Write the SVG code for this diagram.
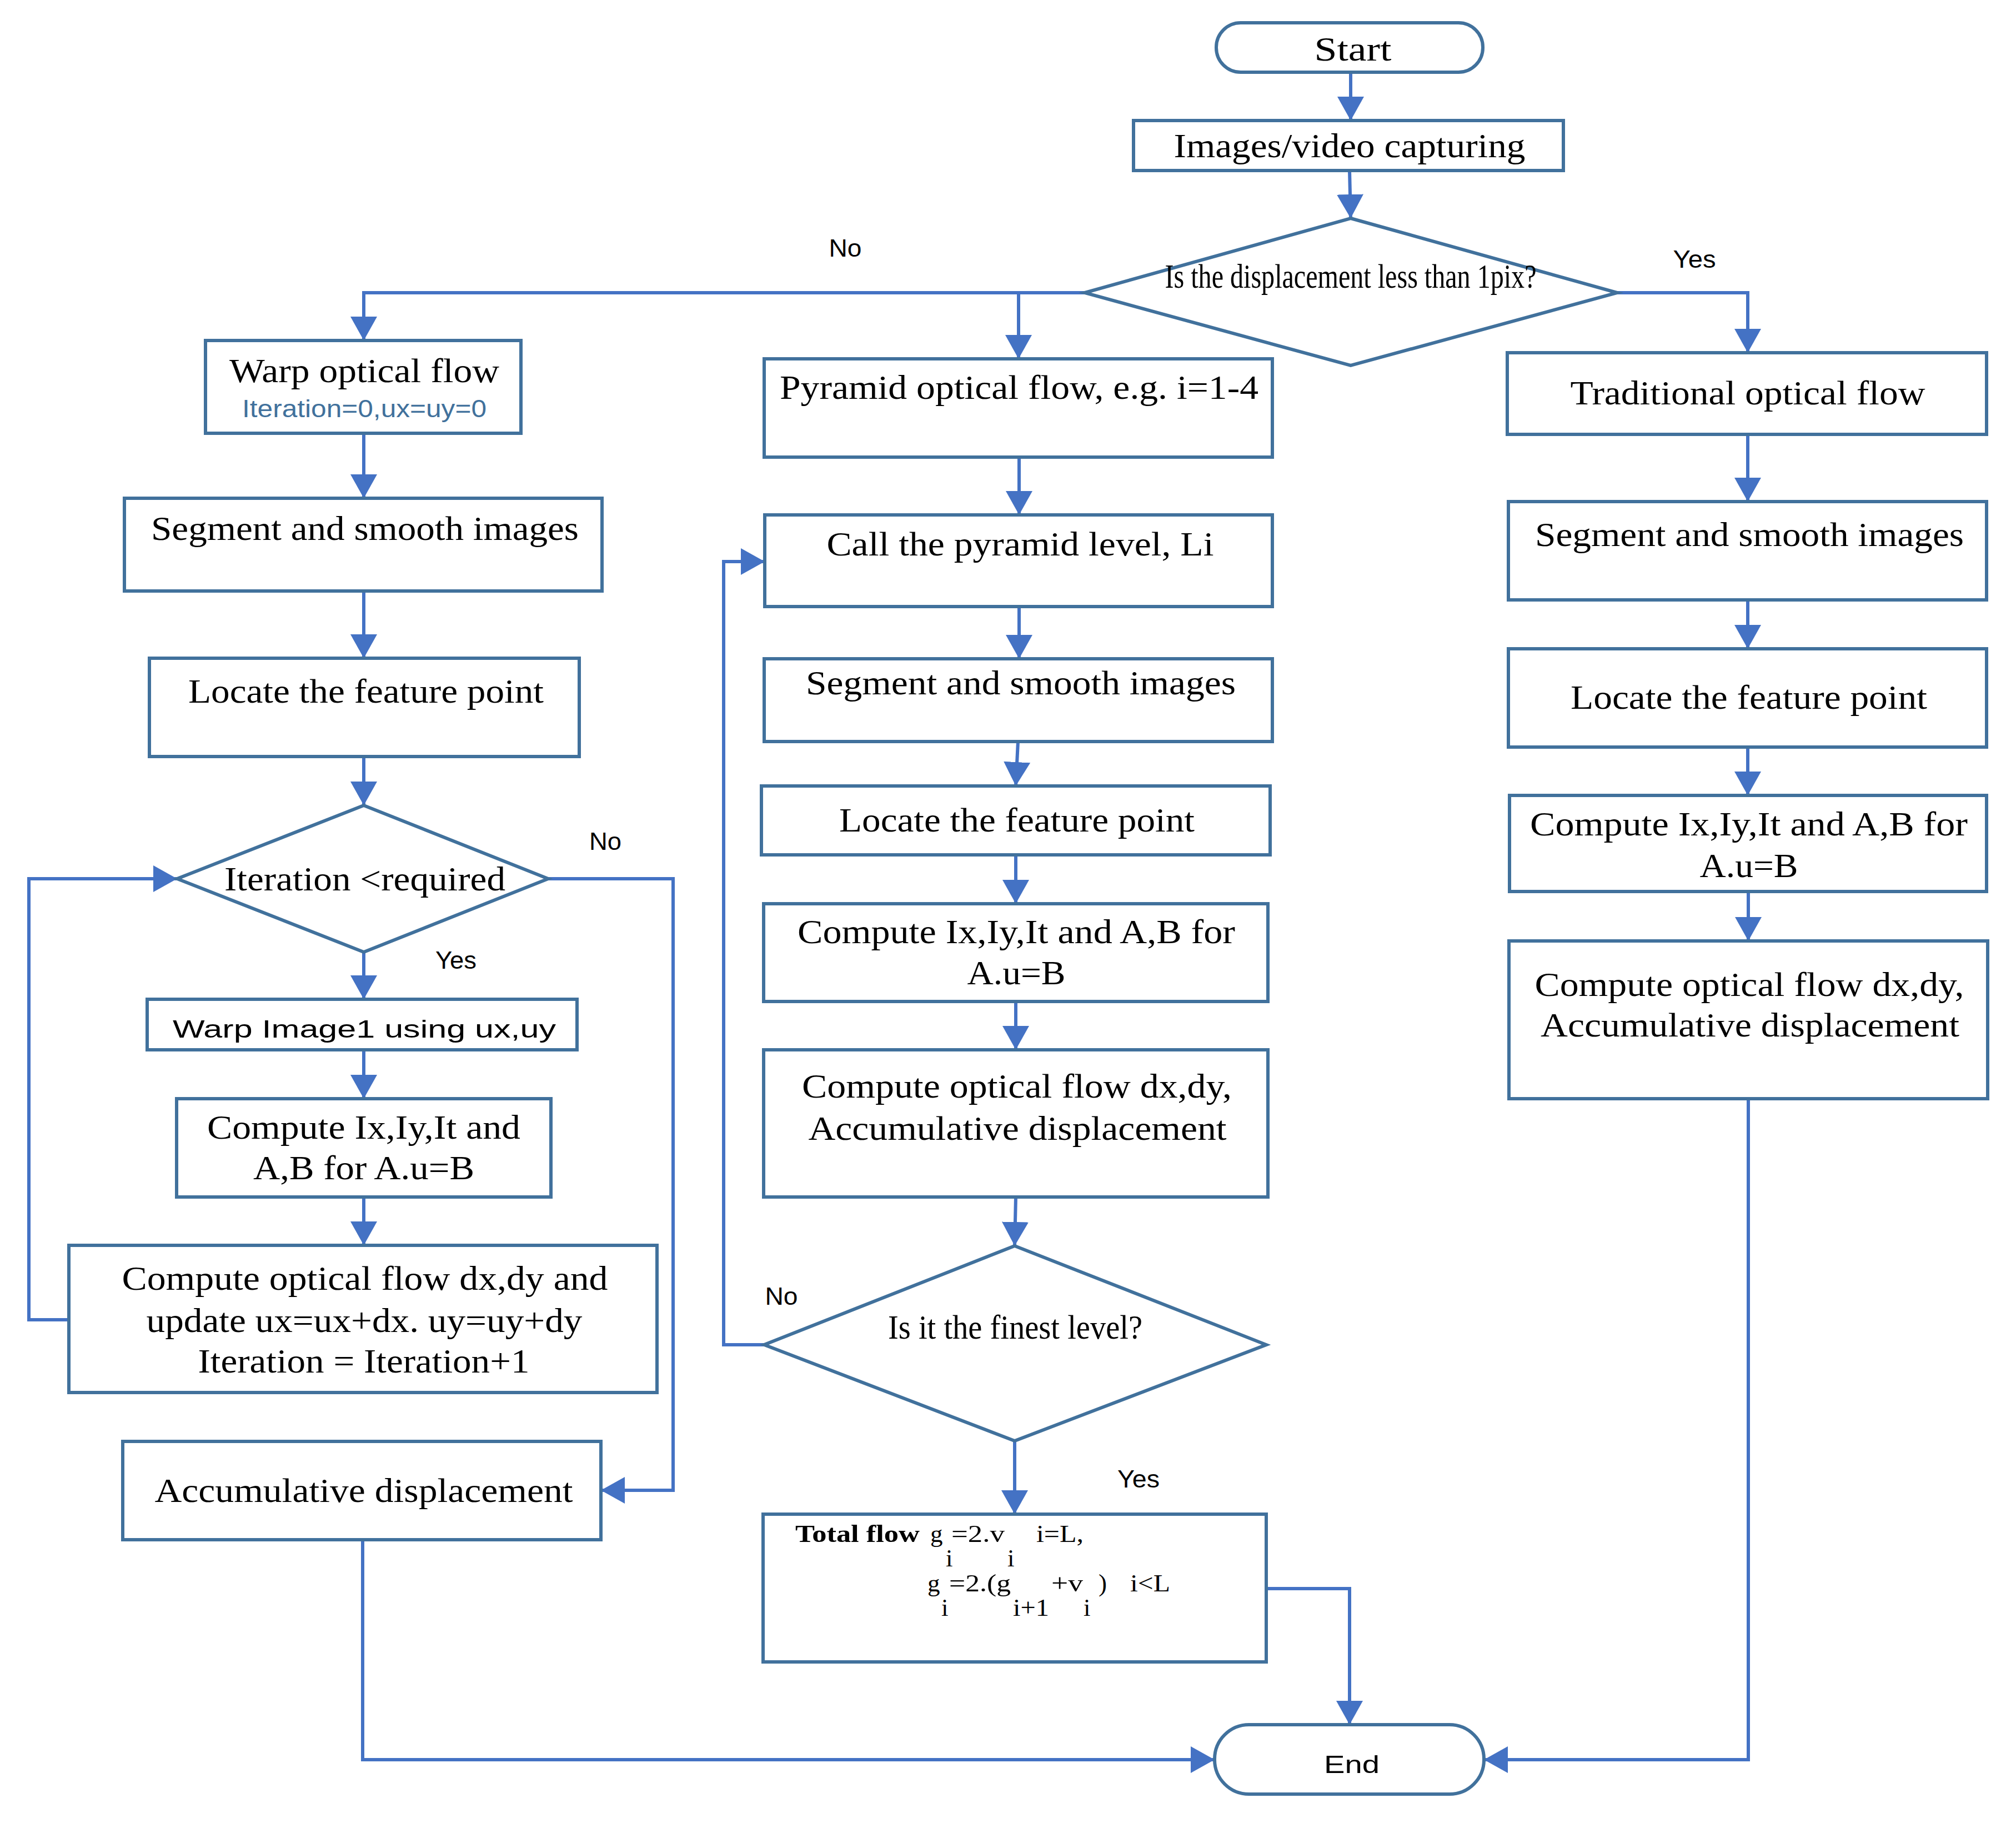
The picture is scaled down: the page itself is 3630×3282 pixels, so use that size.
<svg xmlns="http://www.w3.org/2000/svg" width="3630" height="3282" viewBox="0 0 3630 3282">
<defs>
<marker id="arr" viewBox="0 0 43 48" refX="43" refY="24" markerWidth="43" markerHeight="48" markerUnits="userSpaceOnUse" orient="auto">
<path d="M0,0 L43,24 L0,48 z" fill="#4472C4"/>
</marker>
<style>
.box{fill:#fff;stroke:#41719C;stroke-width:6}
.con{fill:none;stroke:#4472C4;stroke-width:6;marker-end:url(#arr)}
.t{font-family:"Liberation Serif","Times New Roman",serif;font-size:62px;fill:#000;text-anchor:middle}
.s{font-family:"Liberation Sans",Arial,sans-serif;font-size:44px;fill:#000;text-anchor:middle}
.f{font-family:"Liberation Serif","Times New Roman",serif;font-size:45px;fill:#000}
</style>
</defs>
<rect width="3630" height="3282" fill="#fff"/>
<g id="connectors">
<path class="con" d="M2432,130 L2432,217"/>
<path class="con" d="M2430,307 L2432,393"/>
<path class="con" d="M1953,527 L655,527 L655,613"/>
<path class="con" d="M1834,527 L1834,646"/>
<path class="con" d="M2912,527 L3147,527 L3147,635"/>
<path class="con" d="M655,780 L655,897"/>
<path class="con" d="M655,1064 L655,1185"/>
<path class="con" d="M655,1362 L655,1450"/>
<path class="con" d="M655,1714 L655,1799"/>
<path class="con" d="M655,1890 L655,1978"/>
<path class="con" d="M655,2155 L655,2242"/>
<path class="con" d="M124,2376 L52,2376 L52,1582 L319,1582"/>
<path class="con" d="M987,1582 L1212,1582 L1212,2683 L1082,2683"/>
<path class="con" d="M653,2772 L653,3168 L2187,3168"/>
<path class="con" d="M1835,823 L1835,927"/>
<path class="con" d="M1835,1092 L1835,1186"/>
<path class="con" d="M1833,1335 L1829,1415"/>
<path class="con" d="M1829,1539 L1829,1627"/>
<path class="con" d="M1829,1803 L1829,1890"/>
<path class="con" d="M1829,2155 L1827,2243"/>
<path class="con" d="M1376,2421 L1303,2421 L1303,1011 L1377,1011"/>
<path class="con" d="M1827,2594 L1827,2726"/>
<path class="con" d="M2280,2860 L2430,2860 L2430,3105"/>
<path class="con" d="M3147,782 L3147,903"/>
<path class="con" d="M3147,1080 L3147,1168"/>
<path class="con" d="M3147,1345 L3147,1432"/>
<path class="con" d="M3148,1605 L3148,1694"/>
<path class="con" d="M3148,1978 L3148,3168 L2672,3168"/>
<text class="s" x="1522" y="462" textLength="59" lengthAdjust="spacingAndGlyphs">No</text>
<text class="s" x="3051" y="482" textLength="77" lengthAdjust="spacingAndGlyphs">Yes</text>
<text class="s" x="1090" y="1530" textLength="58" lengthAdjust="spacingAndGlyphs">No</text>
<text class="s" x="821" y="1744" textLength="74" lengthAdjust="spacingAndGlyphs">Yes</text>
<text class="s" x="1407" y="2349" textLength="59" lengthAdjust="spacingAndGlyphs">No</text>
<text class="s" x="2050" y="2678" textLength="76" lengthAdjust="spacingAndGlyphs">Yes</text>
</g>
<g id="start">
<rect class="box" x="2190" y="41" width="480" height="89" rx="44"/>
<text class="t" x="2436" y="109" font-size="70" textLength="139" lengthAdjust="spacingAndGlyphs">Start</text>
</g>
<g id="capture">
<rect class="box" x="2041" y="217" width="774" height="90"/>
<text class="t" x="2430" y="283" textLength="633" lengthAdjust="spacingAndGlyphs">Images/video capturing</text>
</g>
<g id="decision-displacement">
<polygon class="box" points="2432,393 2912,527 2432,658 1953,527"/>
<text class="t" x="2432" y="518" font-size="46" textLength="669" lengthAdjust="spacingAndGlyphs">Is the displacement less than 1pix?</text>
</g>
<g id="warp-flow">
<rect class="box" x="370" y="613" width="568" height="167"/>
<text class="t" x="656" y="688" textLength="486" lengthAdjust="spacingAndGlyphs">Warp optical flow</text>
<text class="s" x="656" y="751" font-size="42" style="fill:#41719C" textLength="440" lengthAdjust="spacingAndGlyphs">Iteration=0,ux=uy=0</text>
</g>
<g id="segment-left">
<rect class="box" x="224" y="897" width="860" height="167"/>
<text class="t" x="657" y="972" textLength="770" lengthAdjust="spacingAndGlyphs">Segment and smooth images</text>
</g>
<g id="locate-left">
<rect class="box" x="269" y="1185" width="774" height="177"/>
<text class="t" x="659" y="1265" textLength="640" lengthAdjust="spacingAndGlyphs">Locate the feature point</text>
</g>
<g id="decision-iteration">
<polygon class="box" points="655,1450 987,1582 655,1714 319,1582"/>
<text class="t" x="657" y="1603" textLength="506" lengthAdjust="spacingAndGlyphs">Iteration &lt;required</text>
</g>
<g id="warp-image">
<rect class="box" x="265" y="1799" width="774" height="91"/>
<text class="s" x="656" y="1868" font-size="57" textLength="690" lengthAdjust="spacingAndGlyphs">Warp Image1 using ux,uy</text>
</g>
<g id="compute-ix-left">
<rect class="box" x="318" y="1978" width="674" height="177"/>
<text class="t" x="655" y="2050" textLength="564" lengthAdjust="spacingAndGlyphs">Compute Ix,Iy,It and</text>
<text class="t" x="655" y="2123" textLength="398" lengthAdjust="spacingAndGlyphs">A,B for A.u=B</text>
</g>
<g id="compute-flow-left">
<rect class="box" x="124" y="2242" width="1059" height="265"/>
<text class="t" x="657" y="2322" textLength="875" lengthAdjust="spacingAndGlyphs">Compute optical flow dx,dy and</text>
<text class="t" x="656" y="2398" textLength="785" lengthAdjust="spacingAndGlyphs">update ux=ux+dx. uy=uy+dy</text>
<text class="t" x="655" y="2471" textLength="597" lengthAdjust="spacingAndGlyphs">Iteration = Iteration+1</text>
</g>
<g id="accumulative-left">
<rect class="box" x="221" y="2595" width="861" height="177"/>
<text class="t" x="655" y="2704" textLength="753" lengthAdjust="spacingAndGlyphs">Accumulative displacement</text>
</g>
<g id="pyramid">
<rect class="box" x="1376" y="646" width="915" height="177"/>
<text class="t" x="1835" y="718" textLength="862" lengthAdjust="spacingAndGlyphs">Pyramid optical flow, e.g. i=1-4</text>
</g>
<g id="call-level">
<rect class="box" x="1377" y="927" width="914" height="165"/>
<text class="t" x="1837" y="1000" textLength="697" lengthAdjust="spacingAndGlyphs">Call the pyramid level, Li</text>
</g>
<g id="segment-mid">
<rect class="box" x="1376" y="1186" width="915" height="149"/>
<text class="t" x="1838" y="1250" textLength="774" lengthAdjust="spacingAndGlyphs">Segment and smooth images</text>
</g>
<g id="locate-mid">
<rect class="box" x="1371" y="1415" width="916" height="124"/>
<text class="t" x="1831" y="1497" textLength="640" lengthAdjust="spacingAndGlyphs">Locate the feature point</text>
</g>
<g id="compute-ix-mid">
<rect class="box" x="1375" y="1627" width="908" height="176"/>
<text class="t" x="1830" y="1698" textLength="788" lengthAdjust="spacingAndGlyphs">Compute Ix,Iy,It and A,B for</text>
<text class="t" x="1830" y="1772" textLength="177" lengthAdjust="spacingAndGlyphs">A.u=B</text>
</g>
<g id="compute-flow-mid">
<rect class="box" x="1375" y="1890" width="908" height="265"/>
<text class="t" x="1831" y="1976" textLength="774" lengthAdjust="spacingAndGlyphs">Compute optical flow dx,dy,</text>
<text class="t" x="1832" y="2052" textLength="753" lengthAdjust="spacingAndGlyphs">Accumulative displacement</text>
</g>
<g id="decision-finest">
<polygon class="box" points="1827,2243 2280,2421 1827,2594 1376,2421"/>
<text class="t" x="1828" y="2410" font-size="46" textLength="458" lengthAdjust="spacingAndGlyphs">Is it the finest level?</text>
</g>
<g id="total-flow">
<rect class="box" x="1374" y="2726" width="906" height="266"/>
<text class="f" x="1432" y="2776" font-weight="bold" textLength="224" lengthAdjust="spacingAndGlyphs">Total flow</text>
<text class="f" x="1675" y="2776">g</text>
<text class="f" x="1713" y="2776" textLength="96" lengthAdjust="spacingAndGlyphs">=2.v</text>
<text class="f" x="1866" y="2776" textLength="85" lengthAdjust="spacingAndGlyphs">i=L,</text>
<text class="f" x="1703" y="2820">i</text>
<text class="f" x="1814" y="2820">i</text>
<text class="f" x="1670" y="2865">g</text>
<text class="f" x="1709" y="2865" textLength="111" lengthAdjust="spacingAndGlyphs">=2.(g</text>
<text class="f" x="1893" y="2865" textLength="57" lengthAdjust="spacingAndGlyphs">+v</text>
<text class="f" x="1978" y="2865">)</text>
<text class="f" x="2035" y="2865" textLength="72" lengthAdjust="spacingAndGlyphs">i&lt;L</text>
<text class="f" x="1695" y="2909">i</text>
<text class="f" x="1824" y="2909" textLength="65" lengthAdjust="spacingAndGlyphs">i+1</text>
<text class="f" x="1951" y="2909">i</text>
</g>
<g id="traditional">
<rect class="box" x="2714" y="635" width="863" height="147"/>
<text class="t" x="3147" y="728" textLength="639" lengthAdjust="spacingAndGlyphs">Traditional optical flow</text>
</g>
<g id="segment-right">
<rect class="box" x="2716" y="903" width="861" height="177"/>
<text class="t" x="3150" y="983" textLength="772" lengthAdjust="spacingAndGlyphs">Segment and smooth images</text>
</g>
<g id="locate-right">
<rect class="box" x="2716" y="1168" width="861" height="177"/>
<text class="t" x="3149" y="1276" textLength="642" lengthAdjust="spacingAndGlyphs">Locate the feature point</text>
</g>
<g id="compute-ix-right">
<rect class="box" x="2718" y="1432" width="859" height="173"/>
<text class="t" x="3149" y="1504" textLength="788" lengthAdjust="spacingAndGlyphs">Compute Ix,Iy,It and A,B for</text>
<text class="t" x="3149" y="1579" textLength="177" lengthAdjust="spacingAndGlyphs">A.u=B</text>
</g>
<g id="compute-flow-right">
<rect class="box" x="2717" y="1694" width="862" height="284"/>
<text class="t" x="3150" y="1793" textLength="773" lengthAdjust="spacingAndGlyphs">Compute optical flow dx,dy,</text>
<text class="t" x="3151" y="1866" textLength="754" lengthAdjust="spacingAndGlyphs">Accumulative displacement</text>
</g>
<g id="end">
<rect class="box" x="2187" y="3105" width="485" height="125" rx="62"/>
<text class="s" x="2434" y="3192" font-size="66" textLength="100" lengthAdjust="spacingAndGlyphs">End</text>
</g>
</svg>
